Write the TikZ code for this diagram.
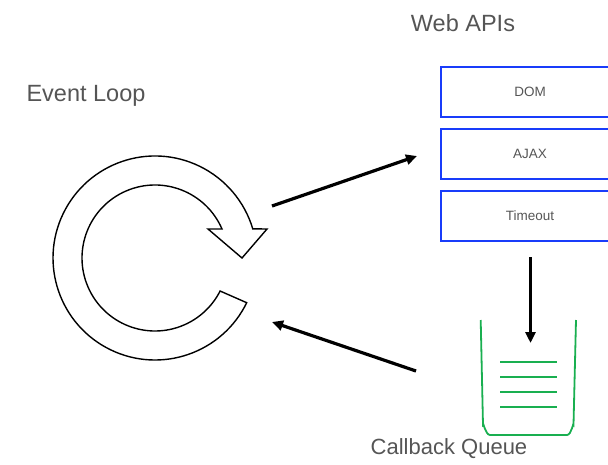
\documentclass[tikz,border=0pt]{standalone}
\usepackage{fontspec}
\setmainfont{Liberation Sans}
\usetikzlibrary{arrows.meta}
\definecolor{txtgray}{RGB}{85,85,85}
\definecolor{apiblue}{RGB}{25,60,250}
\definecolor{qgreen}{RGB}{25,175,80}
\tikzset{
  biglabel/.style={text=txtgray, font=\fontsize{23.5}{27}\selectfont, inner sep=0pt},
  apibox/.style={draw=apiblue, line width=1.8pt, minimum width=178pt, minimum height=50pt, inner sep=0pt, text=txtgray, font=\fontsize{13.5}{16}\selectfont},
  flow/.style={line width=3.2pt, -{Triangle[length=11pt,width=10pt]}},
  ring/.style={draw=black, line width=1.4pt, fill=white, line join=miter},
  qwall/.style={draw=qgreen, line width=1.8pt},
  qline/.style={draw=qgreen, line width=1.8pt}
}
\begin{document}
\begin{tikzpicture}[x=1pt,y=-1pt]
\useasboundingbox (0,0) rectangle (608,464);
\clip (0,0) rectangle (608,464);
% labels
\node[biglabel] (evl) at (86,96) {Event Loop};
\node[biglabel] (web) at (463,23) {Web APIs};
\node[biglabel, font=\fontsize{22}{26}\selectfont] (cbq) at (449,448.5) {Callback Queue};
% api boxes
\node[apibox] (dom) at (530,92) {DOM};
\node[apibox] (ajax) at (530,154) {AJAX};
\node[apibox] (tmo) at (530,216) {Timeout};
% ring arrow
\path[ring] (246.7,302.7) arc[start angle=26, end angle=343.4, radius=102]
  -- (267,229) -- (242,258) -- (208,229)
  -- (222,229) arc[start angle=336.6, end angle=26.9, radius=73] -- cycle;
% queue
\draw[qwall] (480.7,320) -- (483,425) to[out=90,in=180] (490,435) -- (567,435) to[out=0,in=90] (573.5,425) -- (576,320);
\foreach \yy in {361.7,376.7,392.3,407.3}
  \draw[qline] (500,\yy) -- (557,\yy);
% connectors
\coordinate (a1s) at (272,206);
\coordinate (a1e) at (417,156);
\coordinate (a2s) at (416,371);
\coordinate (a2e) at (272,322);
\coordinate (a3s) at (530.5,257);
\coordinate (a3e) at (530.5,343);
\draw[flow] (a1s) -- (a1e);
\draw[flow] (a2s) -- (a2e);
\draw[flow] (a3s) -- (a3e);
\end{tikzpicture}
\end{document}
